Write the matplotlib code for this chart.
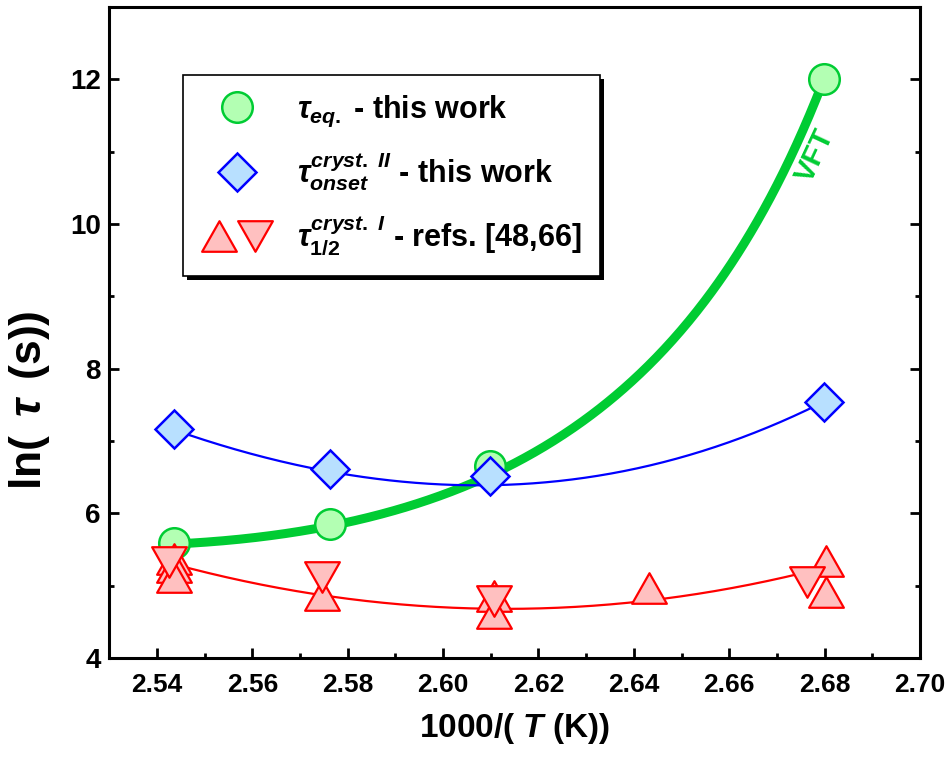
import numpy as np
import matplotlib
matplotlib.use('Agg')
import matplotlib.pyplot as plt
from matplotlib.path import Path
from matplotlib.legend_handler import HandlerTuple
from matplotlib.patches import Rectangle
import matplotlib.transforms as mtransforms
from matplotlib.ticker import MultipleLocator, FormatStrFormatter
from matplotlib.lines import Line2D

plt.rcParams['font.family'] = ['Liberation Sans', 'DejaVu Sans']
plt.rcParams['font.weight'] = 'bold'
plt.rcParams['mathtext.fontset'] = 'custom'
plt.rcParams['mathtext.rm'] = 'Liberation Sans:bold'
plt.rcParams['mathtext.it'] = 'Liberation Sans:italic:bold'
plt.rcParams['mathtext.bf'] = 'Liberation Sans:bold'

# ---------------- data ----------------
eq_x = [2.5436, 2.5763, 2.6099, 2.6799]
eq_y = [5.59, 5.85, 6.65, 12.0]

onset_x = [2.5436, 2.5763, 2.6099, 2.6799]
onset_y = [7.16, 6.61, 6.51, 7.54]

half_up_x = [2.5436, 2.5436, 2.5436, 2.5746, 2.6107, 2.6107, 2.6431, 2.6803, 2.6803]
half_up_y = [5.37, 5.26, 5.12, 4.87, 4.85, 4.62, 4.97, 5.34, 4.91]
half_down_x = [2.5426, 2.5746, 2.6107, 2.6763]
half_down_y = [5.32, 5.12, 4.79, 5.05]

# fitted curves, points
vft_x = [2.5436, 2.5465, 2.5621, 2.5761, 2.5957, 2.6091, 2.6238, 2.6350, 2.6441,
         2.6614, 2.6717, 2.6774, 2.6799]
vft_y = [5.57, 5.63, 5.71, 5.96, 6.28, 6.57, 6.97, 7.38, 7.84,
         9.82, 10.88, 11.76, 12.0]
blue_fit_x = [2.5436, 2.5468, 2.5761, 2.5957, 2.6126, 2.6407, 2.6631, 2.6668, 2.6755, 2.6799]
blue_fit_y = [7.16, 7.08, 6.55, 6.44, 6.40, 6.61, 7.04, 7.16, 7.43, 7.53]
red_fit_x = [2.5469, 2.5746, 2.6107, 2.6431, 2.6764, 2.6800]
red_fit_y = [5.25, 4.85, 4.67, 4.82, 5.19, 5.24]

x_ticks = [2.54, 2.56, 2.58, 2.60, 2.62, 2.64, 2.66, 2.68, 2.70]
y_ticks = [4, 6, 8, 10, 12]

labels = [r'$\tau_{eq.}$ - this work',
          r'$\tau^{cryst.\ II}_{onset}$ - this work',
          r'$\tau^{cryst.\ I}_{1/2}$ - refs. [48,66]']

# ---------------- styles ----------------
GREEN_E = '#00cc33'
GREEN_F = '#b3ffb3'
BLUE_E = '#0000ff'
BLUE_F = '#b8e0ff'
RED_E = '#ff0000'
RED_F = '#ffc0c0'

up_tri = Path([(-0.5, -0.44), (0.5, -0.44), (0.0, 0.44), (-0.5, -0.44)],
              [Path.MOVETO, Path.LINETO, Path.LINETO, Path.CLOSEPOLY])
down_tri = Path([(-0.5, 0.44), (0.5, 0.44), (0.0, -0.44), (-0.5, 0.44)],
                [Path.MOVETO, Path.LINETO, Path.LINETO, Path.CLOSEPOLY])

fig = plt.figure(figsize=(9.5, 7.58), dpi=100)
ax = fig.add_axes([0.115, 0.132, 0.8534, 0.8588])

# ---- fits ----
# VFT-type: y = A + C*T + B/(T - T0), T = 1000/x, ends weighted
Tv = 1000.0 / np.array(vft_x)
yv = np.array(vft_y)
w = np.ones_like(yv)
w[0] = w[-1] = 6.0
best = None
for T0 in np.linspace(300, 372.5, 3000):
    M = np.vstack([np.ones_like(Tv), Tv, 1.0 / (Tv - T0)]).T
    coef, *_ = np.linalg.lstsq(M * w[:, None], yv * w, rcond=None)
    r = np.sum(((M @ coef - yv) * w) ** 2)
    if best is None or r < best[0]:
        best = (r, T0, coef)
_, T0b, (Ab, Cb, Bb) = best
xg = np.linspace(min(eq_x), max(eq_x), 400)
Tg = 1000.0 / xg
yg = Ab + Cb * Tg + Bb / (Tg - T0b)

pb = np.polyfit(blue_fit_x, blue_fit_y, 3)
xb = np.linspace(min(onset_x), max(onset_x), 300)
pr = np.polyfit(red_fit_x, red_fit_y, 2)
xr = np.linspace(min(half_up_x), max(half_up_x), 300)

ax.plot(xg, yg, color=GREEN_E, lw=6.5, solid_capstyle='butt', zorder=2)
ax.plot(eq_x, eq_y, ls='none', marker='o', ms=22, mfc=GREEN_F, mec=GREEN_E, mew=1.8, zorder=3)
ax.plot(xb, np.polyval(pb, xb), color=BLUE_E, lw=1.6, zorder=4)
ax.plot(onset_x, onset_y, ls='none', marker='D', ms=19.5, mfc=BLUE_F, mec=BLUE_E, mew=1.8, zorder=5)
ax.plot(xr, np.polyval(pr, xr), color=RED_E, lw=1.6, zorder=6)
ax.plot(half_up_x, half_up_y, ls='none', marker=up_tri, ms=25, mfc=RED_F, mec=RED_E, mew=1.6, zorder=7)
ax.plot(half_down_x, half_down_y, ls='none', marker=down_tri, ms=25, mfc=RED_F, mec=RED_E, mew=1.6, zorder=7)

ax.text(2.6780, 10.95, 'VFT', color=GREEN_E, fontsize=21, fontweight='bold',
        rotation=65, ha='center', va='center', zorder=8)

# ---- axes ----
ax.set_xlim(2.53, 2.70)
ax.set_ylim(4, 13)
ax.set_xticks(x_ticks)
ax.set_yticks(y_ticks)
ax.xaxis.set_minor_locator(MultipleLocator(0.01))
ax.yaxis.set_minor_locator(MultipleLocator(1))
ax.xaxis.set_major_formatter(FormatStrFormatter('%.2f'))
ax.tick_params(which='both', direction='in', top=False, right=True, width=2)
ax.tick_params(which='major', length=7.2)
ax.tick_params(which='minor', length=3.6)
ax.tick_params(axis='x', pad=11, labelsize=19)
ax.tick_params(axis='y', pad=6, labelsize=20)
for s in ax.spines.values():
    s.set_linewidth(2.2)

ax.set_xlabel(r'1000/( $T$ (K))', fontsize=24, fontweight='bold')
ax.set_ylabel(r'ln( $\,\tau\,$ (s))', fontsize=32, fontweight='bold')
ax.xaxis.set_label_coords(0.5, -0.082)
ax.yaxis.set_label_coords(-0.07, 0.396)

# ---- legend ----
h1 = Line2D([], [], ls='none', marker='o', ms=22, mfc=GREEN_F, mec=GREEN_E, mew=1.8)
h2 = Line2D([], [], ls='none', marker='D', ms=19.5, mfc=BLUE_F, mec=BLUE_E, mew=1.8)
h3a = Line2D([], [], ls='none', marker=up_tri, ms=25, mfc=RED_F, mec=RED_E, mew=1.6)
h3b = Line2D([], [], ls='none', marker=down_tri, ms=25, mfc=RED_F, mec=RED_E, mew=1.6)
leg = ax.legend([h1, h2, (h3a, h3b)], labels,
                handler_map={tuple: HandlerTuple(ndivide=None, pad=0)},
                loc='upper left', bbox_to_anchor=(0.0909, 0.8955), borderaxespad=0,
                fontsize=22, handlelength=2.3, handletextpad=0.8, borderpad=0.62,
                labelspacing=0.68, fancybox=False, framealpha=1, edgecolor='black',
                numpoints=1)
leg.get_frame().set_linewidth(1.2)
leg.set_zorder(10)

fig.canvas.draw()
bb = leg.get_frame().get_window_extent(fig.canvas.get_renderer())
shadow = Rectangle((bb.x0 + 4, bb.y0 - 4), bb.width, bb.height,
                   transform=mtransforms.IdentityTransform(), facecolor='black',
                   edgecolor='none', zorder=9.9, clip_on=False)
ax.add_patch(shadow)

fig.savefig('out.png', dpi=100)
